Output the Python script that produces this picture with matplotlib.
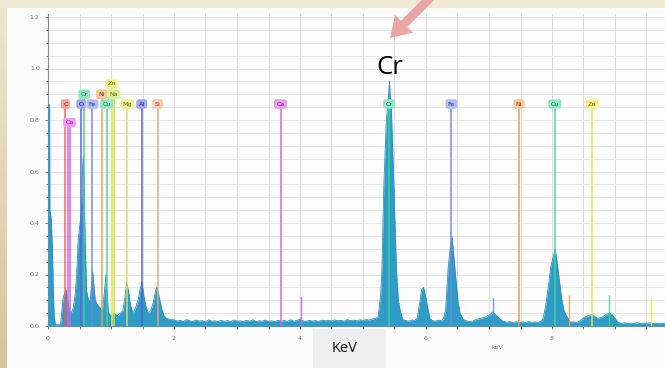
import matplotlib
matplotlib.use("Agg")
import matplotlib.pyplot as plt
from matplotlib.patches import Rectangle, FancyArrow
from matplotlib.ticker import MultipleLocator
from matplotlib.colors import LinearSegmentedColormap
import numpy as np

# ---- EDS spectrum, read channel by channel (keV, normalised counts) ----
spec_kev = [
    0.000, 0.025, 0.030, 0.050, 0.070, 0.085, 0.100, 0.120, 0.200, 0.220,
    0.240, 0.270, 0.290, 0.310, 0.340, 0.370, 0.400, 0.430, 0.455, 0.480,
    0.510, 0.530, 0.550, 0.560, 0.570, 0.590, 0.610, 0.640, 0.670, 0.690,
    0.710, 0.730, 0.750, 0.790, 0.830, 0.860, 0.890, 0.920, 0.940, 0.960,
    1.000, 1.050, 1.100, 1.150, 1.190, 1.220, 1.250, 1.280, 1.310, 1.350,
    1.390, 1.430, 1.460, 1.490, 1.520, 1.550, 1.590, 1.630, 1.670, 1.710,
    1.730, 1.760, 1.800, 1.840, 1.880, 1.940,
    2.00, 2.05, 2.10, 2.15, 2.20, 2.25, 2.30, 2.35, 2.40, 2.45,
    2.50, 2.55, 2.60, 2.65, 2.70, 2.75, 2.80, 2.85, 2.90, 2.95,
    3.00, 3.05, 3.10, 3.15, 3.20, 3.25, 3.30, 3.35, 3.40, 3.45,
    3.50, 3.55, 3.60, 3.65, 3.70, 3.75, 3.80, 3.85, 3.90, 3.95,
    4.00, 4.05, 4.10, 4.15, 4.20, 4.25, 4.30, 4.35, 4.40, 4.45,
    4.50, 4.55, 4.60, 4.65, 4.70, 4.75, 4.80, 4.85, 4.90, 4.95,
    5.00, 5.05, 5.10, 5.15, 5.20,
    5.24, 5.28, 5.30, 5.33, 5.37, 5.40, 5.42, 5.43, 5.45, 5.49,
    5.53, 5.56, 5.59, 5.63, 5.68, 5.73, 5.78, 5.82, 5.86, 5.90,
    5.93, 5.96, 5.99, 6.02, 6.06, 6.10, 6.15, 6.20, 6.25, 6.28,
    6.31, 6.35, 6.39, 6.41, 6.43, 6.46, 6.48, 6.51, 6.54, 6.59,
    6.64, 6.69, 6.74, 6.79, 6.84, 6.88, 6.92, 6.95, 6.99, 7.02,
    7.06, 7.10, 7.13, 7.16, 7.20, 7.23, 7.28, 7.33, 7.38, 7.43,
    7.48, 7.53, 7.58, 7.63, 7.68, 7.73, 7.78, 7.82, 7.86, 7.90,
    7.94, 7.98, 8.02, 8.05, 8.08, 8.12, 8.15, 8.19, 8.23, 8.29,
    8.34, 8.39, 8.43, 8.47, 8.52, 8.58, 8.63, 8.68, 8.74, 8.80,
    8.86, 8.91, 8.95, 9.00, 9.05, 9.10, 9.15, 9.20, 9.25, 9.30,
    9.35, 9.40, 9.45, 9.50, 9.55, 9.60, 9.65, 9.70, 9.75, 9.80,
]
spec_val = [
    0.860, 0.860, 0.450, 0.420, 0.300, 0.120, 0.030, 0.005, 0.005, 0.060,
    0.110, 0.130, 0.140, 0.100, 0.060, 0.050, 0.070, 0.120, 0.200, 0.340,
    0.400, 0.450, 0.620, 0.660, 0.550, 0.330, 0.140, 0.100, 0.100, 0.160,
    0.210, 0.150, 0.100, 0.080, 0.070, 0.050, 0.120, 0.200, 0.120, 0.050,
    0.040, 0.050, 0.040, 0.050, 0.060, 0.110, 0.170, 0.130, 0.080, 0.050,
    0.070, 0.100, 0.140, 0.170, 0.120, 0.080, 0.050, 0.060, 0.090, 0.140,
    0.150, 0.120, 0.070, 0.040, 0.030, 0.025,
    0.024, 0.019, 0.022, 0.017, 0.025, 0.020, 0.018, 0.023, 0.019, 0.021,
    0.016, 0.024, 0.019, 0.020, 0.017, 0.022, 0.018, 0.021, 0.016, 0.023,
    0.019, 0.020, 0.017, 0.022, 0.018, 0.024, 0.017, 0.020, 0.019, 0.023,
    0.018, 0.020, 0.017, 0.022, 0.019, 0.021, 0.018, 0.024, 0.019, 0.021,
    0.027, 0.020, 0.018, 0.022, 0.019, 0.021, 0.018, 0.023, 0.020, 0.022,
    0.019, 0.024, 0.020, 0.022, 0.019, 0.025, 0.021, 0.023, 0.020, 0.024,
    0.022, 0.025, 0.023, 0.027, 0.030,
    0.036, 0.120, 0.220, 0.540, 0.800, 0.880, 0.950, 0.900, 0.840, 0.540,
    0.220, 0.100, 0.060, 0.025, 0.021, 0.019, 0.023, 0.022, 0.030, 0.090,
    0.140, 0.150, 0.120, 0.080, 0.030, 0.021, 0.019, 0.023, 0.020, 0.030,
    0.060, 0.220, 0.320, 0.350, 0.300, 0.220, 0.170, 0.090, 0.050, 0.025,
    0.020, 0.017, 0.019, 0.025, 0.028, 0.030, 0.033, 0.035, 0.042, 0.045,
    0.055, 0.045, 0.038, 0.030, 0.022, 0.018, 0.015, 0.017, 0.014, 0.016,
    0.013, 0.016, 0.014, 0.017, 0.015, 0.016, 0.014, 0.018, 0.030, 0.080,
    0.150, 0.230, 0.270, 0.300, 0.250, 0.170, 0.110, 0.060, 0.040, 0.015,
    0.016, 0.014, 0.018, 0.025, 0.035, 0.040, 0.045, 0.035, 0.030, 0.035,
    0.045, 0.050, 0.045, 0.030, 0.015, 0.010, 0.012, 0.010, 0.011, 0.009,
    0.012, 0.010, 0.011, 0.009, 0.012, 0.010, 0.011, 0.009, 0.010, 0.011,
]

# ---- element identification lines ----
line_elem = ['C', 'Ca', 'O', 'Cr', 'Fe', 'Ni', 'Cu', 'Zn', 'Na', 'Mg', 'Al', 'Si',
             'Ca', 'Cr', 'Fe', 'Ni', 'Cu', 'Zn']
line_kev = [0.277, 0.341, 0.525, 0.573, 0.705, 0.851, 0.930, 1.012, 1.041, 1.254,
            1.486, 1.740, 3.691, 5.414, 6.403, 7.477, 8.047, 8.638]

# secondary (K-beta) markers
kb_elem = ['Ca', 'Fe', 'Ni', 'Cu', 'Zn']
kb_kev = [4.013, 7.058, 8.265, 8.905, 9.572]
kb_top = [0.115, 0.110, 0.120, 0.120, 0.110]

x_ticks = [0, 2, 4, 6, 8]
y_ticks = [0.0, 0.2, 0.4, 0.6, 0.8, 1.0, 1.2]

# ---- styling ----
elem_color = {
    'C': '#E2665C', 'Ca': '#DB5FDB', 'O': '#5F63DD', 'Cr': '#3FCF94',
    'Fe': '#6F86E2', 'Ni': '#EE9A48', 'Cu': '#45D49A', 'Zn': '#E9EC3E',
    'Na': '#C4E047', 'Mg': '#DCE24E', 'Al': '#4E5FD6', 'Si': '#EDA77A',
}
elem_fill = {
    'C': '#F3A39C', 'Ca': '#EE9BEE', 'O': '#A3A6F0', 'Cr': '#8FE6C2',
    'Fe': '#AFBDF2', 'Ni': '#F6C598', 'Cu': '#92E8C4', 'Zn': '#F3F58E',
    'Na': '#DDEE92', 'Mg': '#EDF095', 'Al': '#9EA8EE', 'Si': '#F6CCB0',
}
elem_text = {
    'C': '#8A1F18', 'Ca': '#7A1A7A', 'O': '#1E2290', 'Cr': '#11724A',
    'Fe': '#223A8E', 'Ni': '#8A4A10', 'Cu': '#12704A', 'Zn': '#6E6E10',
    'Na': '#5A6E10', 'Mg': '#6A6E12', 'Al': '#1A2488', 'Si': '#8A4A22',
}
# label rows for the crowded low-energy region
label_row = [0.862, 0.790, 0.862, 0.900, 0.862, 0.900, 0.862, 0.940, 0.900, 0.862,
             0.862, 0.862, 0.862, 0.862, 0.862, 0.862, 0.862, 0.862]

W, H = 665, 368
fig = plt.figure(figsize=(W / 100, H / 100), dpi=100)
fig.patch.set_facecolor('#FBFBFB')

# beige slide frame (top band and left strip with a gradient)
fig.add_artist(Rectangle((0, 1 - 8 / H), 1, 8 / H, transform=fig.transFigure,
                         facecolor='#EFE8D2', edgecolor='none', zorder=0))
grad_ax = fig.add_axes([0, 0, 7 / W, 1 - 8 / H])
grad = np.linspace(0, 1, 256).reshape(-1, 1)
cmap = LinearSegmentedColormap.from_list('frame', ['#D2C79C', '#EDE6CE'])
grad_ax.imshow(grad, aspect='auto', cmap=cmap, origin='lower')
grad_ax.set_axis_off()

ax = fig.add_axes([48 / W, 1 - 326 / H, 1 - 48 / W, (326 - 14) / H])
ax.set_facecolor('#FDFDFD')
ax.set_xlim(0, (W - 48) / 63.0)
ax.set_ylim(0, 312 / 257.5)

# grid
ax.xaxis.set_major_locator(MultipleLocator(2))
ax.xaxis.set_minor_locator(MultipleLocator(0.5))
ax.yaxis.set_major_locator(MultipleLocator(0.2))
ax.yaxis.set_minor_locator(MultipleLocator(0.05))
ax.grid(which='both', axis='x', color='#DCDCDC', lw=0.7, zorder=0)
ax.grid(which='both', axis='y', color='#E4E4E4', lw=0.6, zorder=0)
ax.set_axisbelow(True)

# spectrum
ax.fill_between(spec_kev, spec_val, 0, color='#2E9CC6', lw=0, zorder=2.6)
ax.plot(spec_kev, spec_val, color='#2A93C0', lw=0.6, zorder=2.6)

# element lines and tags
for el, kev, row in zip(line_elem, line_kev, label_row):
    lw = 3.0 if (el == 'Ca' and kev < 1) else 1.1
    alpha = 0.75 if (el == 'Ca' and kev < 1) else 0.95
    ax.vlines(kev, 0, row - 0.015, color=elem_color[el], lw=lw, alpha=alpha, zorder=3)
for el, kev, row in zip(line_elem, line_kev, label_row):
    ax.text(kev, row, el, ha='center', va='center', fontsize=4.6,
            color=elem_text[el], zorder=5,
            bbox=dict(boxstyle='round,pad=0.35', fc=elem_fill[el], ec='none'))
for el, kev, top in zip(kb_elem, kb_kev, kb_top):
    ax.vlines(kev, 0, top, color=elem_color[el], lw=1.0, alpha=0.9, zorder=3)

# axes decoration
ax.set_xticks(x_ticks)
ax.set_yticks(y_ticks)
ax.set_xticklabels([str(v) for v in x_ticks])
ax.set_yticklabels([f'{v:.1f}' for v in y_ticks])
for side in ('top', 'right'):
    ax.spines[side].set_visible(False)
for side in ('left', 'bottom'):
    ax.spines[side].set_color('#8A8A8A')
    ax.spines[side].set_linewidth(0.8)
ax.tick_params(which='both', colors='#777777', labelsize=4.5, length=2.5, width=0.7)
ax.tick_params(which='minor', length=1.8)
ax.tick_params(axis='x', pad=5)
ax.set_xlabel('keV', fontsize=4.5, color='#777777')
ax.xaxis.set_label_coords((497 - 48) / (W - 48), -0.06)

# caption box
fig.add_artist(Rectangle((313 / W, 0), 73 / W, 39 / H, transform=fig.transFigure,
                         facecolor='#EFEFEF', edgecolor='none', zorder=6))
fig.text(345 / W, 1 - 348 / H, 'KeV', ha='center', va='center',
         fontsize=10.5, family='Open Sans', color='#111111', zorder=7)

# highlighted peak
fig.text(390 / W, 1 - 67 / H, 'Cr', ha='center', va='center',
         fontsize=18.5, family='Open Sans', color='#000000', zorder=7)
tail = (432, H + 4)
tip = (390, H - 38)
fig.add_artist(FancyArrow(tail[0], tail[1], tip[0] - tail[0], tip[1] - tail[1],
                          width=9, head_width=25, head_length=20,
                          length_includes_head=True, transform=None,
                          color='#E8A6A6', lw=0, zorder=8))

fig.savefig('out.png', dpi=100)
